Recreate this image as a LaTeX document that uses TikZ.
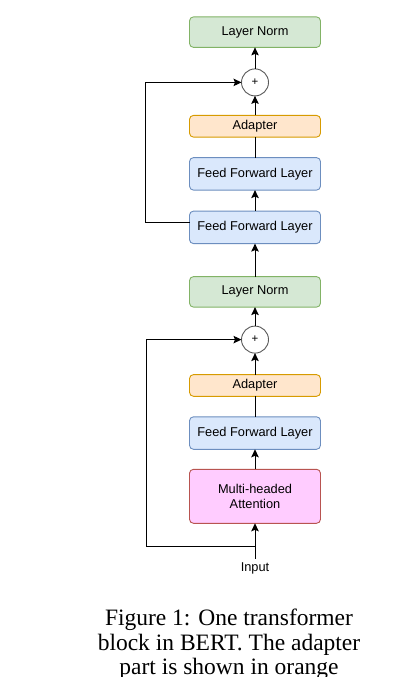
\documentclass[tikz,border=0pt]{standalone}
\usepackage{fontspec}
\setmainfont{Liberation Serif}
\newfontfamily\boxfont{Liberation Sans}
\usepackage{xcolor}
\definecolor{lngreen}{HTML}{D5E8D4}
\definecolor{lngreenline}{HTML}{82B366}
\definecolor{ffblue}{HTML}{DAE8FC}
\definecolor{ffblueline}{HTML}{6C8EBF}
\definecolor{adorange}{HTML}{FFE6CC}
\definecolor{adorangeline}{HTML}{D79B00}
\definecolor{mhpink}{HTML}{FFCCFF}
\definecolor{mhpinkline}{HTML}{B85450}
\usetikzlibrary{arrows.meta, positioning}

\begin{document}
\begin{tikzpicture}[
  x=1pt, y=-1pt,
  block/.style={rectangle, rounded corners=4pt, line width=0.9pt, outer sep=0pt,
               minimum width=131pt, inner sep=2pt, align=center,
               font=\boxfont\fontsize{12.8}{15}\selectfont},
  normblock/.style={block, draw=lngreenline, fill=lngreen, minimum height=30.5pt},
  ffblock/.style={block, draw=ffblueline, fill=ffblue, minimum height=32.5pt},
  adblock/.style={block, draw=adorangeline, fill=adorange, minimum height=21.7pt},
  attblock/.style={block, draw=mhpinkline, fill=mhpink, minimum height=54pt},
  addnode/.style={circle, draw=black!65, fill=white, line width=0.9pt, outer sep=0pt,
               minimum size=27pt, inner sep=0pt, font=\boxfont\fontsize{11.5}{12}\selectfont},
  arr/.style={-{Stealth[length=8pt, width=7.5pt, inset=1.5pt]}, line width=1pt},
  plain/.style={line width=1pt}
]
  \fill[white] (0,0) rectangle (402,677);
  \useasboundingbox (0,0) rectangle (402,677);

  % lower half
  \node[attblock] (mha) at (255,496.3) {Multi-headed\\Attention};
  \node[ffblock, above=20pt of mha] (ffl3) {Feed Forward Layer};
  \node[adblock, above=20.5pt of ffl3] (adp2) {Adapter};
  \node[addnode, above=21.5pt of adp2] (add2) {+};
  \node[normblock, above=19pt of add2] (ln2) {Layer Norm};
  % upper half
  \node[ffblock, above=33pt of ln2] (ffl2) {Feed Forward Layer};
  \node[ffblock, above=21pt of ffl2] (ffl1) {Feed Forward Layer};
  \node[adblock, above=20.5pt of ffl1] (adp1) {Adapter};
  \node[addnode, above=19.5pt of adp1] (add1) {+};
  \node[normblock, above=21.5pt of add1] (ln1) {Layer Norm};

  \node[font=\boxfont\fontsize{12.8}{15}\selectfont] (input) at (255,568) {Input};
  \coordinate (split) at (255,546);

  \draw[plain] (input) -- (split);
  \draw[arr] (split) -- (mha);
  \draw[arr] (mha) -- (ffl3);
  \draw[plain] (ffl3) -- (adp2);
  \draw[arr] (adp2) -- (add2);
  \draw[arr] (add2) -- (ln2);
  \draw[arr] (ln2) -- (ffl2);
  \draw[arr] (ffl2) -- (ffl1);
  \draw[plain] (ffl1) -- (adp1);
  \draw[arr] (adp1) -- (add1);
  \draw[arr] (add1) -- (ln1);

  % residual paths
  \draw[arr] (split) -- ++(-109,0) |- (add2);
  \draw[arr] ([yshift=5pt]ffl2.west) -- ++(-44,0) |- (add1);

  \node[anchor=base, align=center, font=\fontsize{23.5}{24.5}\selectfont] (caption) at (229,674.7)
    {Figure 1: One transformer\\block in BERT. The adapter\\part is shown in orange};
\end{tikzpicture}
\end{document}
